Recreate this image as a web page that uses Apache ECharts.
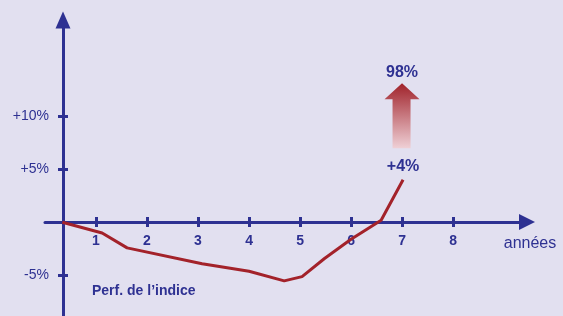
<!DOCTYPE html>
<html>
<head>
<meta charset="utf-8">
<script src="https://cdn.jsdelivr.net/npm/echarts@6/dist/echarts.min.js"></script>
<style>
  html, body { margin: 0; padding: 0; background: #e2e0f0; }
  #chart { width: 563px; height: 316px; }
</style>
</head>
<body>
<div id="chart"></div>
<script>
// years on the x axis, perf. of the index in %
var years = [0.34, 1.12, 1.61, 3.08, 4.0, 4.69, 5.04, 5.48, 6.0, 6.59, 7.02];
var perf = [0, -1.0, -2.4, -3.9, -4.6, -5.5, -5.1, -3.4, -1.6, 0.2, 4.0];
var xTicks = [1, 2, 3, 4, 5, 6, 7, 8];
var yTicks = [-5, 5, 10];
var yTickLabels = ['-5%', '+5%', '+10%'];
var finalLabel = '+4%';
var bonusLabel = '98%';
var bonusAt = [7, 10];

var blue = '#2e3192';
var red = '#a3222a';
var font = 'Liberation Sans, Arial, sans-serif';

var points = years.map(function (x, i) { return [x, perf[i]]; });
var last = points[points.length - 1];

// x axis sits at y = 0 : grid bottom is 316, zero line is at 222
function xAxisOf(inside, main) {
    return {
        type: 'value', min: 0, max: 9.45, position: 'bottom', offset: -94,
        axisLine: {
            show: main, onZero: false,
            symbol: ['none', 'triangle'], symbolSize: [16, 16],
            lineStyle: { color: blue, width: 3 }
        },
        axisTick: { show: true, inside: inside, length: 5, customValues: xTicks,
            lineStyle: { color: blue, width: 3 } },
        axisLabel: { show: main, customValues: xTicks, margin: 12,
            color: blue, fontFamily: font, fontWeight: 'bold', fontSize: 14 },
        splitLine: { show: false },
        name: main ? 'années' : '', nameLocation: 'end', nameGap: 3,
        nameTextStyle: { color: blue, fontFamily: font, fontSize: 16,
            align: 'center', verticalAlign: 'top', padding: [14, 0, 0, 0] }
    };
}

function yAxisOf(inside, main) {
    return {
        type: 'value', min: -8.8, max: 19, position: 'left', offset: -18,
        axisLine: {
            show: main, onZero: false,
            symbol: ['none', 'triangle'], symbolSize: [15, 17],
            lineStyle: { color: blue, width: 3 }
        },
        axisTick: { show: true, inside: inside, length: 5, customValues: yTicks,
            lineStyle: { color: blue, width: 3 } },
        axisLabel: { show: main, customValues: yTicks, margin: 14,
            color: blue, fontFamily: font, fontSize: 14,
            formatter: function (v) { return yTickLabels[yTicks.indexOf(v)]; } },
        splitLine: { show: false }
    };
}

var labelStyle = { color: blue, fontFamily: font, fontWeight: 'bold', fontSize: 16 };

var chart = echarts.init(document.getElementById('chart'));
chart.setOption({
    backgroundColor: '#e2e0f0',
    animation: false,
    title: {
        text: 'Perf. de l\u2019indice', left: 92, top: 284, padding: 0,
        textStyle: { color: blue, fontFamily: font, fontWeight: 'bold', fontSize: 14 }
    },
    grid: { left: 45, right: 36, top: 20, bottom: 0, containLabel: false, outerBoundsMode: 'none' },
    xAxis: [xAxisOf(false, true), xAxisOf(true, false)],
    yAxis: [yAxisOf(false, true), yAxisOf(true, false)],
    series: [{
        type: 'line',
        data: points,
        symbol: 'none',
        lineStyle: { color: red, width: 3 },
        markPoint: {
            data: [{
                coord: bonusAt,
                symbol: 'path://M17.5,0 L35,16 L26,16 L26,65 L8,65 L8,16 L0,16 Z',
                symbolSize: [35, 65],
                itemStyle: {
                    color: {
                        type: 'linear', x: 0, y: 0, x2: 0, y2: 1,
                        colorStops: [{ offset: 0, color: '#a0222a' }, { offset: 1, color: '#efd0d6' }]
                    }
                },
                label: Object.assign({ show: true, position: 'top', distance: 3, formatter: bonusLabel }, labelStyle)
            }, {
                coord: last,
                symbol: 'circle',
                symbolSize: 1,
                itemStyle: { color: 'rgba(0,0,0,0)' },
                label: Object.assign({ show: true, position: 'top', distance: 5, formatter: finalLabel }, labelStyle)
            }]
        }
    }]
});
</script>
</body>
</html>
